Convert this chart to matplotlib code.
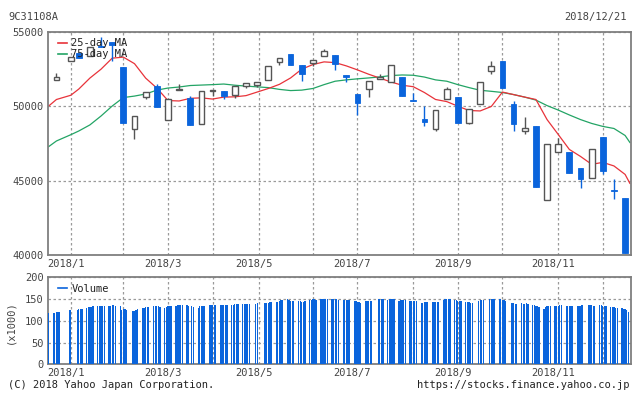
import matplotlib
matplotlib.use("Agg")
import matplotlib.pyplot as plt
import matplotlib.dates as mdates
import matplotlib.transforms as mtransforms
from matplotlib.lines import Line2D
import pandas as pd

# ---------------- data ----------------
candle_dates = ["2017-12-27", "2018-01-05", "2018-01-10", "2018-01-17", "2018-01-24", "2018-01-31",
                "2018-02-07", "2018-02-14", "2018-02-21", "2018-02-28", "2018-03-07", "2018-03-14",
                "2018-03-21", "2018-03-28", "2018-04-04", "2018-04-11", "2018-04-18", "2018-04-25",
                "2018-05-02", "2018-05-09", "2018-05-16", "2018-05-23", "2018-05-30", "2018-06-06",
                "2018-06-13", "2018-06-20", "2018-06-27", "2018-07-04", "2018-07-11", "2018-07-18",
                "2018-07-25", "2018-08-01", "2018-08-08", "2018-08-15", "2018-08-22", "2018-08-29",
                "2018-09-05", "2018-09-12", "2018-09-19", "2018-09-26", "2018-10-03", "2018-10-10",
                "2018-10-17", "2018-10-24", "2018-10-31", "2018-11-07", "2018-11-14", "2018-11-21",
                "2018-11-28", "2018-12-05", "2018-12-12", "2018-12-19"]
opens = [51780, 53040, 53610, 53410, 54060, 54300, 52620, 48490, 50620, 51340, 49070, 51100,
         50570, 48830, 51030, 51060, 50750, 51380, 51440, 51800, 52990, 53540, 52810, 52920,
         53390, 53480, 52090, 50860, 51180, 51850, 51620, 52000, 50400, 49180, 48490, 50500,
         50610, 48890, 50170, 52380, 53030, 50190, 48330, 48650, 43730, 46950, 46950, 45870,
         45200, 47950, 44350, 43860]
highs = [52220, 53320, 53610, 54000, 54650, 54300, 52620, 49360, 50960, 51510, 50500, 51530,
         50680, 51010, 51110, 51060, 51400, 51580, 51650, 52720, 53260, 53540, 52810, 53090,
         53880, 53480, 52090, 50860, 51730, 52200, 52790, 52000, 50910, 50050, 49720, 51280,
         50610, 49790, 51650, 53030, 53030, 50390, 49270, 48650, 47480, 47840, 46950, 45870,
         47150, 47950, 45140, 43860]
lows = [51780, 53040, 53230, 53410, 54010, 53040, 48870, 47820, 50480, 49950, 49070, 51100,
        48730, 48830, 50680, 50500, 50570, 51240, 51280, 51800, 52810, 52760, 51690, 52740,
        53390, 52420, 51620, 49450, 50640, 51850, 51620, 50680, 50360, 48670, 48330, 50500,
        48870, 48780, 50170, 52180, 51240, 48330, 48160, 44570, 43730, 46950, 45510, 44530,
        45200, 45470, 43790, 40140]
closes = [51950, 53320, 53230, 54000, 54010, 54130, 48870, 49360, 50960, 49950, 50500, 51190,
          48730, 51010, 51110, 50680, 51400, 51580, 51650, 52720, 53260, 52760, 52160, 53090,
          53730, 52850, 52000, 50240, 51730, 51980, 52790, 50680, 50360, 48960, 49720, 51180,
          48870, 49790, 51650, 52740, 51240, 48780, 48510, 44570, 47480, 47480, 45510, 45110,
          47150, 45650, 44310, 40140]

ma_dates = ["2017-12-22"] + candle_dates + ["2018-12-22"]
ma25 = [50010, 50460, 50745, 51160, 51900, 52500, 53240, 53310, 52870, 51900, 51230, 50390,
        50360, 50540, 50570, 50490, 50620, 50640, 50720, 50960, 51200, 51480, 51910, 52500,
        52810, 52990, 52940, 52720, 52450, 52160, 51900, 51640, 51420, 51320, 50930, 50460,
        50320, 50010, 49720, 49690, 49990, 50960, 50790, 50620, 50460, 49110, 48110, 47100,
        46630, 46100, 46230, 45990, 45420, 44820]
ma75 = [47280, 47670, 48090, 48340, 48750, 49350, 50020, 50590, 50690, 50830, 51090, 51230,
        51300, 51400, 51430, 51460, 51500, 51420, 51360, 51310, 51260, 51140, 51060, 51090,
        51200, 51460, 51690, 51780, 51850, 51910, 51980, 52070, 52110, 52090, 51970, 51780,
        51690, 51460, 51260, 51080, 51010, 50930, 50790, 50620, 50420, 50050, 49750, 49420,
        49110, 48850, 48650, 48510, 48040, 47570]

jp_holidays = ["2018-01-01", "2018-01-02", "2018-01-03", "2018-01-08", "2018-02-12", "2018-03-21",
               "2018-04-30", "2018-05-03", "2018-05-04", "2018-07-16", "2018-09-17", "2018-09-24",
               "2018-10-08", "2018-11-23"]
volume_by_week = [
    [117],
    [118, 119, 120, 120, 120],
    [124, 125],
    [125, 127, 127, 127],
    [130, 131, 131, 132, 133],
    [133, 135, 134, 134, 134],
    [135, 134, 136, 136, 133],
    [134, 125, 127, 126, 125],
    [122, 122, 124, 127],
    [129, 130, 131, 131, 131],
    [134, 134, 134, 134, 132],
    [130, 131, 134, 133, 134],
    [134, 137, 136, 136, 136],
    [136, 134, 134, 131],
    [130, 133, 133, 133, 135],
    [136, 136, 136, 136, 136],
    [136, 136, 136, 137, 137],
    [137, 136, 138, 138, 138],
    [138, 138, 138, 138, 138],
    [138, 140],
    [140, 140, 140, 143, 143],
    [144, 144, 145, 147, 147],
    [149, 148, 146, 146, 146],
    [146, 145, 144, 144, 146],
    [147, 148, 149, 149, 148],
    [150, 150, 151, 151, 150],
    [149, 150, 149, 149, 148],
    [148, 148, 147, 148, 148],
    [145, 145, 143, 143, 142],
    [146, 146, 146, 146, 146],
    [149, 149, 149, 150],
    [148, 149, 149, 150, 150],
    [146, 147, 147, 148, 148],
    [146, 146, 146, 146, 145],
    [141, 142, 143, 143, 144],
    [143, 144, 144, 143, 143],
    [148, 149, 149, 149, 149],
    [147, 148, 146, 145, 145],
    [143, 143, 143, 142, 142],
    [146, 147, 148, 148],
    [151, 151, 150, 150],
    [149, 149, 148, 147, 146],
    [141, 140, 139, 138],
    [140, 139, 139, 140, 139],
    [137, 137, 135, 133, 131],
    [127, 131, 134, 135, 135],
    [135, 135, 135, 136, 136],
    [135, 135, 135, 133, 133],
    [133, 133, 134, 136],
    [136, 137, 137, 135, 134],
    [136, 137, 135, 134, 133],
    [131, 131, 131, 130, 130],
    [130, 128, 127, 125, 121],
]
grid_dates = ["2018-01-05", "2018-02-07", "2018-03-07", "2018-04-04", "2018-05-03", "2018-06-06",
              "2018-07-04", "2018-08-08", "2018-09-05", "2018-10-03", "2018-11-07", "2018-12-05"]
grid_labels = ["2018/1", "", "2018/3", "", "2018/5", "", "2018/7", "", "2018/9", "", "2018/11", ""]

# ---------------- style ----------------
BLUE = "#0A64DC"
RED = "#E8333A"
GREEN = "#23A465"
UPEDGE = "#555555"
GRID = "#9A9A9A"
SPINE = "#7F7F7F"
TXT = "#444444"
FONT = "DejaVu Sans Mono"
FS = 7.5
plt.rcParams["font.family"] = FONT

fig = plt.figure(figsize=(6.34, 3.94), dpi=100)
W, H = 634, 394
ax = fig.add_axes([48 / W, 1 - 255 / H, 583 / W, 223 / H])
axv = fig.add_axes([48 / W, 1 - 364.3 / H, 583 / W, 87 / H])

cd = mdates.date2num(pd.to_datetime(candle_dates))
x0 = mdates.date2num(pd.Timestamp("2017-12-21")) + 0.7
x1 = mdates.date2num(pd.Timestamp("2018-12-22")) + 0.7
gd = mdates.date2num(pd.to_datetime(grid_dates))

# moving averages
md = mdates.date2num(pd.to_datetime(ma_dates))
ax.plot(md, ma75, color=GREEN, lw=0.9, zorder=2)
ax.plot(md, ma25, color=RED, lw=0.9, zorder=2)

# candles
bw = 3.6
for xd, o, h, l, c in zip(cd, opens, highs, lows, closes):
    up = c >= o
    col = UPEDGE if up else BLUE
    ax.vlines(xd, l, h, color=col, lw=1.0, zorder=3)
    bottom = min(o, c)
    height = max(abs(c - o), 30)
    if up:
        ax.bar(xd, height, bottom=bottom, width=bw, facecolor="white", edgecolor=UPEDGE,
               linewidth=1.0, zorder=4)
    else:
        ax.bar(xd, height, bottom=bottom, width=bw, facecolor=BLUE, edgecolor=BLUE,
               linewidth=0.6, zorder=4)

# volume
tdays = pd.bdate_range("2017-12-22", "2018-12-21")
tdays = tdays[~tdays.isin(pd.to_datetime(jp_holidays))]
vols = [v for wk in volume_by_week for v in wk]
n = min(len(tdays), len(vols))
vd = mdates.date2num(tdays[:n])
axv.bar(vd, vols[:n], width=0.8, color=BLUE, linewidth=0, zorder=3)

# axes formatting
for a in (ax, axv):
    a.set_xlim(x0, x1)
    a.set_xticks(gd)
    a.grid(True, axis="both", color=GRID, linestyle=(0, (2, 2)), linewidth=0.9, zorder=1)
    a.tick_params(length=0, labelsize=FS, colors=TXT, pad=3)
    for s in a.spines.values():
        s.set_color(SPINE)
        s.set_linewidth(1.3)
    offset = mtransforms.ScaledTranslation(-5 / 100, 0, fig.dpi_scale_trans)
    a.set_xticklabels(grid_labels)
    for lab in a.get_xticklabels():
        lab.set_transform(lab.get_transform() + offset)

ax.set_ylim(40000, 55000)
ax.set_yticks([40000, 45000, 50000, 55000])
ax.set_yticklabels(["40000", "45000", "50000", "55000"])
axv.set_ylim(0, 200)
axv.set_yticks([0, 50, 100, 150, 200])
axv.set_yticklabels(["0", "50", "100", "150", "200"])

# legends
h1 = [Line2D([], [], color=RED, lw=1.2), Line2D([], [], color=GREEN, lw=1.2)]
ax.legend(h1, ["25-day MA", "75-day MA"], loc="upper left", bbox_to_anchor=(0.006, 1.0),
          frameon=False, handlelength=0.9, handletextpad=0.4, labelspacing=0.12,
          borderaxespad=0.2, prop={"family": FONT, "size": FS}, labelcolor="#222222")
axv.legend([Line2D([], [], color=BLUE, lw=1.2)], ["Volume"], loc="upper left",
           bbox_to_anchor=(0.006, 1.0), frameon=False, handlelength=0.9, handletextpad=0.4,
           borderaxespad=0.2, prop={"family": FONT, "size": FS}, labelcolor="#222222")

# text
fig.text(8 / W, 1 - 17 / H, "9C31108A", ha="left", va="center", fontsize=FS, color=TXT)
fig.text(627 / W, 1 - 17 / H, "2018/12/21", ha="right", va="center", fontsize=FS, color=TXT)
fig.text(8 / W, 1 - 385 / H, "(C) 2018 Yahoo Japan Corporation.", ha="left", va="center",
         fontsize=FS, color="#222222")
fig.text(630 / W, 1 - 385 / H, "https://stocks.finance.yahoo.co.jp", ha="right", va="center",
         fontsize=FS, color="#222222")
fig.text(10 / W, 1 - 322 / H, "(x1000)", rotation=90, ha="center", va="center", fontsize=FS,
         color=TXT)

fig.savefig("out.png", dpi=100, facecolor="white")
